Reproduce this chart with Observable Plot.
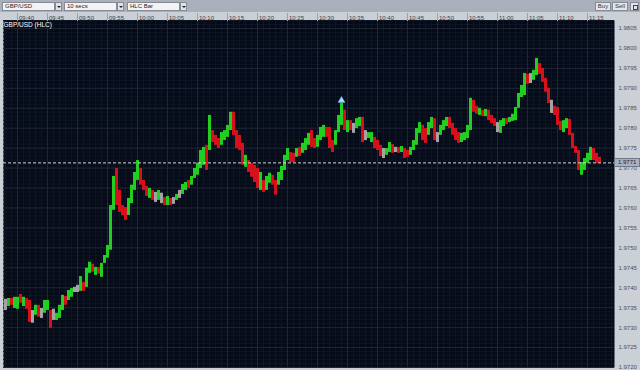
<!DOCTYPE html>
<html>
<head>
<meta charset="utf-8">
<script src="https://cdn.jsdelivr.net/npm/d3@7"></script>
<script src="https://cdn.jsdelivr.net/npm/@observablehq/plot@0.6"></script>
<style>
  html, body { margin: 0; padding: 0; }
  body { width: 640px; height: 370px; overflow: hidden; background: #a9afbb; font-family: "Liberation Sans", Arial, sans-serif; position: relative; }
  #toolbar { position: absolute; left: 0; top: 0; width: 640px; height: 12px; background: #a9afbb; }
  .sel { position: absolute; top: 2px; height: 9px; box-sizing: border-box; background: #f3f3f3; border: 1px solid #858b96; font-size: 6px; line-height: 7px; color: #222; padding-left: 2px; white-space: nowrap; }
  .arr { position: absolute; top: 2px; width: 7px; height: 9px; box-sizing: border-box; background: #dfe2e7; border: 1px solid #858b96; }
  .arr::after { content: ""; position: absolute; left: 1px; top: 3px; border-left: 2px solid transparent; border-right: 2px solid transparent; border-top: 2px solid #222; }
  .btn { position: absolute; top: 2px; height: 9px; box-sizing: border-box; background: #e4e6ea; border: 1px solid #858b96; font-size: 6px; line-height: 7px; color: #333; text-align: center; }
  .icon::after { content: ""; position: absolute; left: 2px; top: 2px; width: 3px; height: 3px; border: 1px solid #444; }
  #chart { position: absolute; left: 0; top: 12px; }
  #last { position: absolute; left: 614px; width: 26px; height: 9px; box-sizing: border-box; background: #a8b0c1; border: 1px solid #6f7789; font-size: 6px; line-height: 7px; color: #222; padding-left: 3px; }
</style>
</head>
<body>
<div id="toolbar">
  <div class="sel" style="left:2px;width:53px">GBP/USD</div>
  <div class="arr" style="left:55px"></div>
  <div class="sel" style="left:64px;width:53px">10 secs</div>
  <div class="arr" style="left:117px"></div>
  <div class="sel" style="left:127px;width:53px">HLC Bar</div>
  <div class="arr" style="left:180px"></div>
  <div class="btn" style="left:595px;width:16px">Buy</div>
  <div class="btn" style="left:612px;width:16px">Sell</div>
  <div class="btn icon" style="left:630px;width:9px"></div>
</div>
<div id="chart"></div>
<script>
// ---- data (GBP/USD, 30-second HLC bars) ----
const instrument = "GBP/USD (HLC)";
const firstBarTime = "09:38:00";
const barSeconds = 30;
const viewStart = "09:37:40";
const viewEnd = "11:19:30";

const highs = [
1.97371,1.97373,1.97373,1.97376,1.97376,1.97383,1.97376,1.97373,1.97368,1.97343,
1.97356,1.97356,1.97348,1.97368,1.97368,1.97343,1.97346,1.97336,1.97356,1.97381,
1.97378,1.97393,1.97398,1.97401,1.97406,1.97428,1.97413,1.97449,1.97464,1.97459,
1.97451,1.97451,1.97461,1.97481,1.97506,1.97606,1.97679,1.97699,1.97644,1.97606,
1.97601,1.97624,1.97657,1.97689,1.97719,1.97699,1.97669,1.97654,1.97649,1.97644,
1.97639,1.97644,1.97637,1.97626,1.97629,1.97624,1.97626,1.97634,1.97644,1.97659,
1.97664,1.97669,1.97679,1.97699,1.97712,1.97744,1.97752,1.97757,1.97832,1.97794,
1.97782,1.97774,1.97789,1.97794,1.97807,1.97840,1.97840,1.97794,1.97782,1.97762,
1.97732,1.97719,1.97712,1.97707,1.97699,1.97689,1.97669,1.97679,1.97687,1.97682,
1.97669,1.97689,1.97704,1.97732,1.97749,1.97739,1.97737,1.97749,1.97752,1.97762,
1.97774,1.97787,1.97794,1.97774,1.97782,1.97802,1.97807,1.97802,1.97802,1.97769,
1.97794,1.97832,1.97862,1.97845,1.97819,1.97819,1.97812,1.97824,1.97827,1.97827,
1.97794,1.97789,1.97789,1.97777,1.97769,1.97757,1.97749,1.97749,1.97764,1.97759,
1.97752,1.97752,1.97754,1.97749,1.97744,1.97752,1.97769,1.97799,1.97814,1.97807,
1.97799,1.97814,1.97827,1.97824,1.97789,1.97807,1.97819,1.97827,1.97827,1.97812,
1.97799,1.97789,1.97787,1.97789,1.97807,1.97875,1.97870,1.97855,1.97850,1.97845,
1.97847,1.97845,1.97832,1.97824,1.97814,1.97819,1.97824,1.97824,1.97827,1.97835,
1.97852,1.97887,1.97907,1.97937,1.97935,1.97937,1.97945,1.97975,1.97962,1.97950,
1.97925,1.97900,1.97870,1.97855,1.97852,1.97817,1.97819,1.97824,1.97822,1.97787,
1.97754,1.97744,1.97714,1.97724,1.97737,1.97752,1.97749,1.97737,1.97727];

const lows = [
1.97343,1.97353,1.97356,1.97348,1.97346,1.97361,1.97353,1.97346,1.97313,1.97311,
1.97331,1.97326,1.97323,1.97336,1.97343,1.97298,1.97318,1.97318,1.97323,1.97343,
1.97356,1.97368,1.97376,1.97388,1.97388,1.97391,1.97391,1.97401,1.97436,1.97439,
1.97431,1.97434,1.97426,1.97461,1.97474,1.97494,1.97594,1.97606,1.97589,1.97581,
1.97569,1.97581,1.97611,1.97644,1.97669,1.97657,1.97644,1.97629,1.97624,1.97619,
1.97614,1.97619,1.97611,1.97606,1.97606,1.97606,1.97609,1.97619,1.97624,1.97634,
1.97644,1.97649,1.97657,1.97674,1.97682,1.97699,1.97707,1.97694,1.97744,1.97764,
1.97757,1.97749,1.97757,1.97769,1.97777,1.97794,1.97782,1.97749,1.97744,1.97707,
1.97702,1.97689,1.97677,1.97664,1.97649,1.97644,1.97639,1.97644,1.97662,1.97657,
1.97632,1.97657,1.97669,1.97694,1.97719,1.97714,1.97714,1.97727,1.97729,1.97737,
1.97744,1.97757,1.97752,1.97749,1.97752,1.97769,1.97777,1.97777,1.97749,1.97739,
1.97757,1.97789,1.97807,1.97794,1.97789,1.97794,1.97787,1.97799,1.97804,1.97764,
1.97769,1.97774,1.97764,1.97749,1.97744,1.97729,1.97724,1.97732,1.97739,1.97737,
1.97739,1.97737,1.97739,1.97724,1.97727,1.97732,1.97744,1.97757,1.97787,1.97769,
1.97762,1.97782,1.97799,1.97769,1.97764,1.97782,1.97794,1.97804,1.97799,1.97782,
1.97769,1.97762,1.97764,1.97769,1.97774,1.97794,1.97840,1.97835,1.97832,1.97829,
1.97829,1.97819,1.97812,1.97804,1.97789,1.97787,1.97804,1.97809,1.97814,1.97817,
1.97819,1.97850,1.97877,1.97882,1.97910,1.97912,1.97920,1.97932,1.97935,1.97915,
1.97890,1.97862,1.97837,1.97832,1.97807,1.97794,1.97789,1.97799,1.97782,1.97749,
1.97737,1.97694,1.97682,1.97694,1.97712,1.97719,1.97719,1.97712,1.97712];

const closes = [
1.97355,1.97368,1.97360,1.97372,1.97374,1.97365,1.97370,1.97350,1.97318,1.97318,
1.97350,1.97330,1.97330,1.97360,1.97365,1.97320,1.97320,1.97330,1.97350,1.97378,
1.97370,1.97390,1.97395,1.97395,1.97395,1.97425,1.97400,1.97445,1.97460,1.97445,
1.97450,1.97440,1.97460,1.97475,1.97502,1.97600,1.97660,1.97610,1.97595,1.97585,
1.97575,1.97620,1.97653,1.97685,1.97700,1.97665,1.97648,1.97635,1.97645,1.97625,
1.97625,1.97635,1.97635,1.97610,1.97625,1.97610,1.97610,1.97630,1.97630,1.97655,
1.97660,1.97652,1.97675,1.97695,1.97708,1.97740,1.97748,1.97705,1.97790,1.97770,
1.97760,1.97753,1.97785,1.97790,1.97803,1.97835,1.97790,1.97755,1.97748,1.97715,
1.97728,1.97695,1.97680,1.97670,1.97655,1.97680,1.97645,1.97675,1.97682,1.97660,
1.97635,1.97685,1.97700,1.97728,1.97745,1.97720,1.97718,1.97745,1.97735,1.97758,
1.97770,1.97783,1.97760,1.97753,1.97778,1.97798,1.97803,1.97785,1.97755,1.97745,
1.97790,1.97828,1.97850,1.97800,1.97815,1.97800,1.97800,1.97820,1.97823,1.97770,
1.97770,1.97775,1.97785,1.97755,1.97748,1.97733,1.97733,1.97745,1.97760,1.97742,
1.97742,1.97739,1.97750,1.97728,1.97727,1.97748,1.97765,1.97795,1.97810,1.97775,
1.97768,1.97810,1.97823,1.97775,1.97775,1.97803,1.97815,1.97823,1.97805,1.97788,
1.97773,1.97766,1.97775,1.97785,1.97803,1.97870,1.97845,1.97840,1.97846,1.97840,
1.97844,1.97823,1.97816,1.97808,1.97808,1.97815,1.97820,1.97812,1.97818,1.97832,
1.97850,1.97883,1.97903,1.97933,1.97920,1.97920,1.97940,1.97965,1.97940,1.97920,
1.97895,1.97867,1.97867,1.97845,1.97812,1.97798,1.97815,1.97820,1.97787,1.97753,
1.97740,1.97700,1.97710,1.97720,1.97733,1.97748,1.97725,1.97715,1.97713];

const timeTicks = ["09:40","09:45","09:50","09:55","10:00","10:05","10:10","10:15","10:20","10:25",
  "10:30","10:35","10:40","10:45","10:50","10:55","11:00","11:05","11:10","11:15"];
const priceTicks = [1.9720,1.9725,1.9730,1.9735,1.9740,1.9745,1.9750,1.9755,1.9760,1.9765,
  1.9770,1.9775,1.9780,1.9785,1.9790,1.9795,1.9800,1.9805];
const markerTime = "10:34:00"; // session high marker (blue triangle)

// ---- build ----
const toDate = s => { const p = s.split(":").map(Number); return new Date(Date.UTC(2009, 0, 1, p[0], p[1], p[2] || 0)); };
const t0 = toDate(firstBarTime).getTime();
const rows = highs.map((h, i) => ({
  t: new Date(t0 + i * barSeconds * 1000),
  high: h, low: lows[i], close: closes[i],
  dir: i === 0 ? 0 : Math.sign(Math.round((closes[i] - closes[i - 1]) * 1e5))
}));
const GREEN = "#20cf20", RED = "#d8101c", GRAY = "#a3a3a3";
const colorOf = d => d.dir > 0 ? GREEN : d.dir < 0 ? RED : GRAY;
const lastClose = closes[closes.length - 1];
const xDomain = [toDate(viewStart), toDate(viewEnd)];
const tickDates = timeTicks.map(toDate);
const minorTimes = d3.utcMinute.range(xDomain[0], xDomain[1]);
const minorPrices = d3.range(19720, 19808).map(v => v / 10000);
const markerRow = rows.find(r => r.t.getTime() === toDate(markerTime).getTime());

const chart = Plot.plot({
  width: 640, height: 358,
  marginTop: 8, marginRight: 26, marginBottom: 3, marginLeft: 3,
  style: { background: "#cbcfd6", fontFamily: "Liberation Sans, Arial, sans-serif", fontSize: "6px", overflow: "visible" },
  x: { type: "utc", domain: xDomain, label: null },
  y: { domain: [1.9720, 1.9807], label: null },
  marks: [
    Plot.frame({ fill: "#060b18" }),
    Plot.ruleX(minorTimes, { stroke: "#0e1525" }),
    Plot.ruleY(minorPrices, { stroke: "#0e1525" }),
    Plot.ruleX(tickDates, { stroke: "#1e2637" }),
    Plot.ruleY(priceTicks, { stroke: "#1e2637" }),
    Plot.ruleX(rows, { x: "t", y1: "low", y2: "high", stroke: colorOf, strokeWidth: 3 }),
    Plot.ruleY([lastClose], { stroke: "#d6d6d6", strokeDasharray: "3,2" }),
    Plot.dot(markerRow ? [markerRow] : [], { x: "t", y: "high", symbol: "triangle", r: 2.6, fill: "#a8dcff", stroke: "#5c9fd8", strokeWidth: 0.6, dy: -3 }),
    Plot.text([instrument], { frameAnchor: "top-left", dx: 0, dy: 4, fill: "#ffffff", fontSize: 6.5, textAnchor: "start", lineAnchor: "middle" }),
    Plot.axisX({ anchor: "top", ticks: tickDates, tickSize: 8, stroke: "#9ba1ab", tickFormat: () => "", label: null }),
    Plot.axisX({ anchor: "top", ticks: tickDates, tickSize: 0, tickPadding: 1, tickFormat: d3.utcFormat("%H:%M"), textAnchor: "start", dx: 1.5, fill: "#3b404a", fontSize: 6, label: null }),
    Plot.axisY({ anchor: "right", ticks: priceTicks, tickSize: 0, tickPadding: 4, tickFormat: d3.format(".4f"), fill: "#4a505c", fontSize: 6, label: null })
  ]
});
document.getElementById("chart").appendChild(chart);

// current price box on the price axis
const yPix = chart.scale("y").apply(lastClose);
const box = document.createElement("div");
box.id = "last";
box.style.top = (12 + yPix - 4.5) + "px";
box.textContent = d3.format(".4f")(lastClose);
document.body.appendChild(box);
</script>
</body>
</html>
